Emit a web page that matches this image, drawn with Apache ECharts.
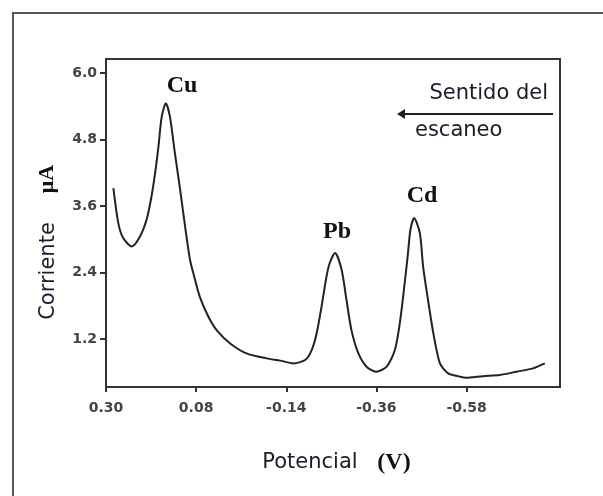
<!DOCTYPE html>
<html>
<head>
<meta charset="utf-8">
<script src="https://cdn.jsdelivr.net/npm/echarts@6/dist/echarts.min.js"></script>
<style>
  html, body { margin: 0; padding: 0; background: #fff; }
  #chart { width: 603px; height: 496px; }
</style>
</head>
<body>
<div id="chart"></div>
<script>
"use strict";

// potential (V) and current (uA)
var potential = [0.282, 0.270, 0.258, 0.237, 0.217, 0.201, 0.189, 0.180, 0.172, 0.164, 0.154,
  0.144, 0.132, 0.119, 0.107, 0.095, 0.087, 0.071, 0.050, 0.030, -0.003, -0.043, -0.092,
  -0.125, -0.157, -0.186, -0.202, -0.214, -0.226, -0.238, -0.246, -0.259, -0.275, -0.287,
  -0.299, -0.316, -0.336, -0.359, -0.385, -0.405, -0.417, -0.429, -0.437, -0.443, -0.452,
  -0.466, -0.474, -0.486, -0.499, -0.515, -0.535, -0.564, -0.578, -0.620, -0.661, -0.702,
  -0.742, -0.771];
var current = [3.92, 3.29, 3.02, 2.87, 3.05, 3.35, 3.77, 4.20, 4.67, 5.21, 5.45,
  5.21, 4.56, 3.89, 3.23, 2.63, 2.39, 1.96, 1.60, 1.36, 1.12, 0.94, 0.85,
  0.81, 0.76, 0.82, 1.00, 1.30, 1.78, 2.32, 2.57, 2.75, 2.45, 1.90,
  1.36, 0.94, 0.70, 0.61, 0.70, 1.00, 1.48, 2.21, 2.75, 3.17, 3.38,
  3.11, 2.50, 1.90, 1.30, 0.76, 0.58, 0.52, 0.50, 0.53, 0.55, 0.61,
  0.67, 0.76];
var xTicks = [0.30, 0.08, -0.14, -0.36, -0.58];
var yTicks = [1.2, 2.4, 3.6, 4.8, 6.0];

var points = potential.map(function (v, i) { return [v, current[i]]; });

var tickFont = { fontFamily: "DejaVu Sans", fontWeight: "bold", fontSize: 14, color: "#444" };
var peakFont = "bold 24px 'Liberation Serif'";
var plainFont = "21px 'DejaVu Sans'";
var textColor = "#1a1a2a";

var myChart = echarts.init(document.getElementById("chart"), null, { renderer: "canvas" });

myChart.setOption({
  animation: false,
  backgroundColor: "#fff",
  grid: {
    left: 106, top: 59, right: 43, bottom: 109,
    show: true,
    borderColor: "#333",
    borderWidth: 2,
  },
  xAxis: {
    type: "value",
    inverse: true,
    min: -0.808,
    max: 0.30,
    axisLine: { show: true, onZero: false, lineStyle: { color: "#333", width: 2 } },
    axisTick: { show: true, length: 5, customValues: xTicks, lineStyle: { color: "#333", width: 2 } },
    axisLabel: Object.assign({
      customValues: xTicks,
      margin: 14,
      formatter: function (v) { return v.toFixed(2); },
    }, tickFont),
    splitLine: { show: false },
  },
  yAxis: {
    type: "value",
    min: 0.334,
    max: 6.25,
    axisLine: { show: true, onZero: false, lineStyle: { color: "#333", width: 2 } },
    axisTick: { show: true, length: 6, customValues: yTicks, lineStyle: { color: "#333", width: 2 } },
    axisLabel: Object.assign({
      customValues: yTicks,
      margin: 9,
      formatter: function (v) { return v.toFixed(1); },
    }, tickFont),
    splitLine: { show: false },
  },
  series: [
    {
      type: "line",
      data: points,
      showSymbol: false,
      smooth: 0.25,
      lineStyle: { color: "#222", width: 2 },
    },
  ],
  graphic: [
    // outer frame (runs off the right and bottom edges)
    { type: "rect", shape: { x: 13, y: 13, width: 620, height: 520 },
      style: { fill: null, stroke: "#555", lineWidth: 2 }, z: 0 },
    { type: "text", x: 182, y: 86, style: { text: "Cu", font: peakFont, fill: "#111", textAlign: "center", textVerticalAlign: "middle" } },
    { type: "text", x: 337, y: 232, style: { text: "Pb", font: peakFont, fill: "#111", textAlign: "center", textVerticalAlign: "middle" } },
    { type: "text", x: 422, y: 196, style: { text: "Cd", font: peakFont, fill: "#111", textAlign: "center", textVerticalAlign: "middle" } },
    { type: "text", x: 548, y: 94, style: { text: "Sentido del", font: plainFont, fill: textColor, textAlign: "right", textVerticalAlign: "middle" } },
    { type: "text", x: 415, y: 131, style: { text: "escaneo", font: plainFont, fill: textColor, textAlign: "left", textVerticalAlign: "middle" } },
    { type: "line", shape: { x1: 553, y1: 114, x2: 399, y2: 114 }, style: { stroke: "#222", lineWidth: 2 } },
    { type: "polygon", shape: { points: [[397, 114], [405, 109], [405, 119]] }, style: { fill: "#222" } },
    { type: "text", x: 49, y: 271, rotation: Math.PI / 2,
      style: { text: "Corriente", font: plainFont, fill: textColor, textAlign: "center", textVerticalAlign: "middle" } },
    { type: "text", x: 47, y: 179, rotation: Math.PI / 2,
      style: { text: "μA", font: "bold 22px 'Liberation Serif'", fill: "#111", textAlign: "center", textVerticalAlign: "middle" } },
    { type: "text", x: 310, y: 463, style: { text: "Potencial", font: plainFont, fill: textColor, textAlign: "center", textVerticalAlign: "middle" } },
    { type: "text", x: 394, y: 463, style: { text: "(V)", font: "bold 24px 'Liberation Serif'", fill: "#111", textAlign: "center", textVerticalAlign: "middle" } },
  ],
});
</script>
</body>
</html>
